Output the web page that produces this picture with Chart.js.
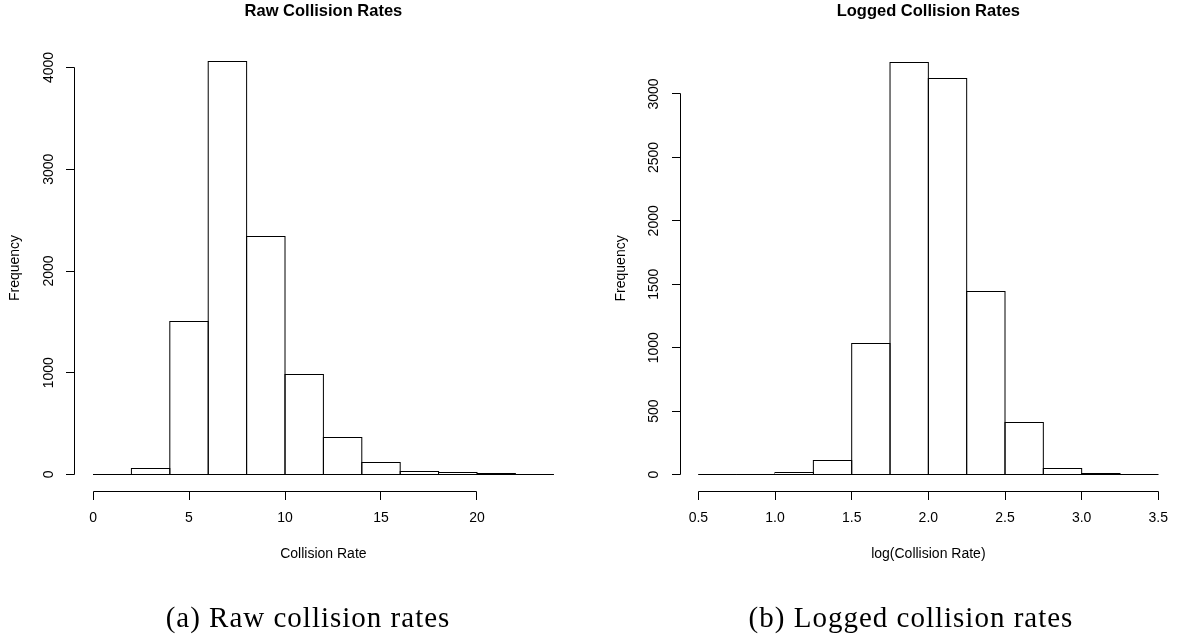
<!DOCTYPE html>
<html>
<head>
<meta charset="utf-8">
<script src="https://cdn.jsdelivr.net/npm/chart.js@4.4.1/dist/chart.umd.min.js"></script>
<style>
	html, body { margin: 0; padding: 0; background: #fff; }
	#page { position: relative; width: 1185px; height: 637px; overflow: hidden; }
	.panel { position: absolute; top: 0; height: 637px; }
	.caption {
		position: absolute;
		top: 600px;
		line-height: 34px;
		font-family: "Liberation Serif", "DejaVu Serif", serif;
		font-size: 29px;
		letter-spacing: 1px;
		color: #000;
		white-space: nowrap;
		transform: translateX(-50%);
	}
</style>
</head>
<body>
<div id="page">
	<div class="panel" style="left:0;width:592px"><canvas id="raw"></canvas></div>
	<div class="panel" style="left:592px;width:593px"><canvas id="logged"></canvas></div>
	<div class="caption" style="left:308px">(a) Raw collision rates</div>
	<div class="caption" style="left:911px">(b) Logged collision rates</div>
</div>
<script>
// raw collision rates, bins of width 2
const rawBreaks = [0, 2, 4, 6, 8, 10, 12, 14, 16, 18, 20, 22, 24]
const rawCounts = [3, 55, 1500, 4060, 2340, 980, 360, 118, 28, 16, 8, 3]
const rawXTicks = [0, 5, 10, 15, 20]
const rawYTicks = [0, 1000, 2000, 3000, 4000]

// log collision rates, bins of width 0.25
const logBreaks = [0.5, 0.75, 1.0, 1.25, 1.5, 1.75, 2.0, 2.25, 2.5, 2.75, 3.0, 3.25, 3.5]
const logCounts = [1, 3, 15, 113, 1035, 3250, 3126, 1440, 413, 47, 8, 2]
const logXTicks = [0.5, 1.0, 1.5, 2.0, 2.5, 3.0, 3.5]
const logYTicks = [0, 500, 1000, 1500, 2000, 2500, 3000]

const SANS = '"Liberation Sans", Arial, Helvetica, sans-serif'
const crisp = v => Math.round(v - 0.5) + 0.5

// base-graphics look: outlined bins, detached x axis, rotated y labels
const rAxes = {
	id: 'rAxes',
	afterDatasetsDraw(chart) {
		const ctx = chart.ctx
		ctx.save()
		ctx.strokeStyle = '#000'
		ctx.lineWidth = 1
		chart.getDatasetMeta(0).data.forEach(bar => {
			const { x, y, base, width } = bar.getProps(['x', 'y', 'base', 'width'], true)
			const top = crisp(y)
			const bottom = crisp(base)
			ctx.strokeRect(x - width / 2, top, width, bottom - top)
		})
		ctx.restore()
	},
	afterDraw(chart, args, o) {
		const { ctx, chartArea: a, scales: { x, y } } = chart
		const tick = 8.5
		ctx.save()
		ctx.strokeStyle = '#000'
		ctx.fillStyle = '#000'
		ctx.lineWidth = 1

		// y axis
		const ax = crisp(a.left)
		ctx.beginPath()
		ctx.moveTo(ax, crisp(y.getPixelForValue(o.yTicks[o.yTicks.length - 1])))
		ctx.lineTo(ax, crisp(y.getPixelForValue(o.yTicks[0])))
		o.yTicks.forEach(v => {
			const py = crisp(y.getPixelForValue(v))
			ctx.moveTo(ax, py)
			ctx.lineTo(ax - tick, py)
		})
		// x axis
		const ay = crisp(a.bottom)
		ctx.moveTo(crisp(x.getPixelForValue(o.xTicks[0])), ay)
		ctx.lineTo(crisp(x.getPixelForValue(o.xTicks[o.xTicks.length - 1])), ay)
		o.xTicks.forEach(v => {
			const px = crisp(x.getPixelForValue(v))
			ctx.moveTo(px, ay)
			ctx.lineTo(px, ay + tick)
		})
		ctx.stroke()

		ctx.font = '14px ' + SANS
		ctx.textAlign = 'center'
		ctx.textBaseline = 'middle'
		o.xTicks.forEach(v => {
			ctx.fillText(o.xFormat(v), x.getPixelForValue(v), a.bottom + 27)
		})
		o.yTicks.forEach(v => {
			ctx.save()
			ctx.translate(a.left - 25.8, y.getPixelForValue(v))
			ctx.rotate(-Math.PI / 2)
			ctx.fillText(String(v), 0, 0)
			ctx.restore()
		})

		const cx = (a.left + a.right) / 2
		ctx.fillText(o.xTitle, cx, a.bottom + 63)
		ctx.save()
		ctx.translate(a.left - 59, (a.top + a.bottom) / 2)
		ctx.rotate(-Math.PI / 2)
		ctx.fillText('Frequency', 0, 0)
		ctx.restore()

		ctx.font = 'bold 16.5px ' + SANS
		ctx.fillText(o.title, cx, 11.5)
		ctx.restore()
	},
}

function histogram(id, breaks, counts, axes, padding) {
	const points = counts.map((c, i) => ({ x: (breaks[i] + breaks[i + 1]) / 2, y: c }))
	const xMin = breaks[0]
	const xMax = breaks[breaks.length - 1]
	const xPad = (xMax - xMin) * 0.04
	const yMax = Math.max(...counts)

	return new Chart(document.getElementById(id), {
		type: 'bar',
		data: {
			datasets: [{
				data: points,
				backgroundColor: '#fff',
				borderWidth: 0,
				barPercentage: 1,
				categoryPercentage: 1,
			}],
		},
		options: {
			responsive: true,
			maintainAspectRatio: false,
			animation: false,
			events: [],
			layout: { padding: padding },
			plugins: {
				legend: { display: false },
				tooltip: { enabled: false },
				rAxes: axes,
			},
			scales: {
				x: {
					type: 'linear',
					display: false,
					offset: false,
					min: xMin - xPad,
					max: xMax + xPad,
					// keep bar width equal to the bin width
					afterBuildTicks: scale => { scale.ticks = breaks.map(v => ({ value: v })) },
				},
				y: {
					display: false,
					min: -yMax * 0.04,
					max: yMax * 1.04,
				},
			},
		},
		plugins: [rAxes],
	})
}

histogram('raw', rawBreaks, rawCounts, {
	title: 'Raw Collision Rates',
	xTitle: 'Collision Rate',
	xTicks: rawXTicks,
	yTicks: rawYTicks,
	xFormat: v => String(v),
}, { left: 74.6, right: 19.8, top: 44.9, bottom: 146 })

histogram('logged', logBreaks, logCounts, {
	title: 'Logged Collision Rates',
	xTitle: 'log(Collision Rate)',
	xTicks: logXTicks,
	yTicks: logYTicks,
	xFormat: v => v.toFixed(1),
}, { left: 88, right: 8.3, top: 45.8, bottom: 146 })
</script>
</body>
</html>
